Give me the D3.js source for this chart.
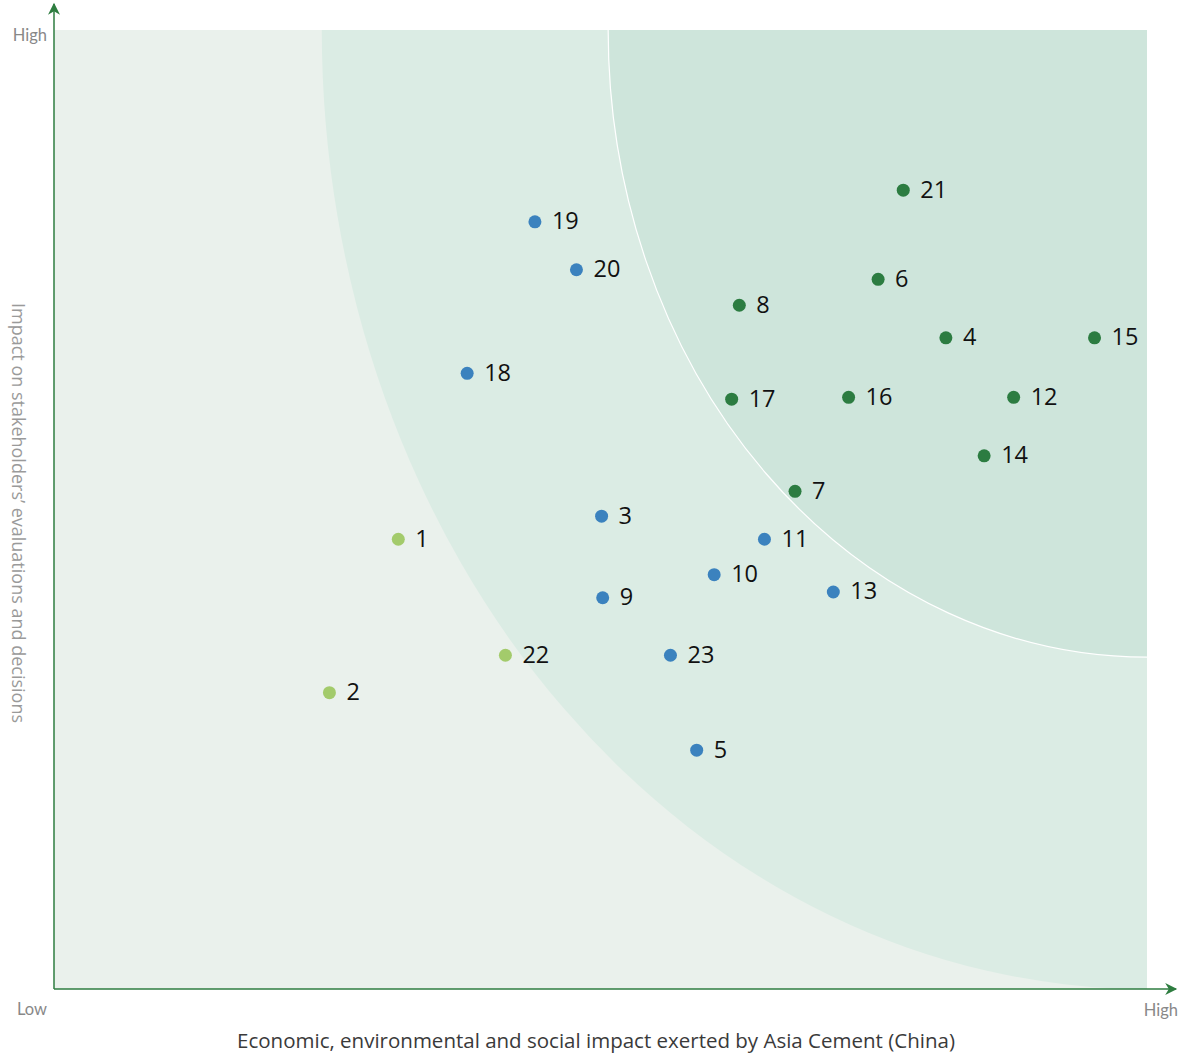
<!DOCTYPE html>
<html>
<head>
<meta charset="utf-8">
<script src="https://cdn.jsdelivr.net/npm/d3@7"></script>
<style>
  html, body { margin: 0; padding: 0; background: #fff; }
  svg { display: block; }
</style>
</head>
<body>
<div id="chart"></div>
<script>
// ---- data ----
const ids    = [1, 2, 3, 4, 5, 6, 7, 8, 9, 10, 11, 12, 13, 14, 15, 16, 17, 18, 19, 20, 21, 22, 23];
const xVals  = [3.15, 2.52, 5.01, 8.16, 5.88, 7.54, 6.78, 6.27, 5.02, 6.04, 6.50, 8.78, 7.13, 8.51, 9.52, 7.27, 6.20, 3.78, 4.40, 4.78, 7.77, 4.13, 5.64];
const yVals  = [4.69, 3.09, 4.93, 6.79, 2.49, 7.40, 5.19, 7.13, 4.08, 4.32, 4.69, 6.17, 4.14, 5.56, 6.79, 6.17, 6.15, 6.42, 8.00, 7.50, 8.33, 3.48, 3.48];
const groups = ["low", "low", "mid", "high", "mid", "high", "high", "high", "mid", "mid", "mid", "high", "mid", "high", "high", "high", "high", "mid", "mid", "mid", "high", "low", "mid"];
const groupNames  = ["low", "mid", "high"];
const groupColors = ["#a3cb6b", "#3b82be", "#2c7c41"];
// materiality zones: elliptical radii measured from the top-right corner (data units)
const zoneRx = [7.55, 4.93];
const zoneRy = [10, 6.54];
const zoneColors = ["#dbece4", "#cee5db"];
const axisLow = "Low", axisHigh = "High";
const xTitle = "Economic, environmental and social impact exerted by Asia Cement (China)";
const yTitle = "Impact on stakeholders’ evaluations and decisions";

// ---- layout ----
const W = 1178, H = 1055;
const mLeft = 54, mRight = 1147, mTop = 30, mBottom = 989;
const x = d3.scaleLinear().domain([0, 10]).range([mLeft, mRight]);
const y = d3.scaleLinear().domain([0, 10]).range([mBottom, mTop]);
const color = d3.scaleOrdinal().domain(groupNames).range(groupColors);

const svg = d3.select("#chart").append("svg").attr("width", W).attr("height", H);
const defs = svg.append("defs");

defs.append("clipPath").attr("id", "plotClip")
  .append("rect").attr("x", mLeft).attr("y", mTop).attr("width", mRight - mLeft).attr("height", mBottom - mTop);

svg.append("rect").attr("x", mLeft).attr("y", mTop).attr("width", mRight - mLeft).attr("height", mBottom - mTop)
  .attr("fill", "#eaf1ec");

const zones = svg.append("g").attr("clip-path", "url(#plotClip)");
zoneRx.forEach((rx, i) => {
  zones.append("ellipse")
    .attr("cx", x(10)).attr("cy", y(10))
    .attr("rx", x(rx) - x(0)).attr("ry", y(0) - y(zoneRy[i]))
    .attr("fill", zoneColors[i])
    .attr("stroke", i === 1 ? "#ffffff" : "none")
    .attr("stroke-width", 1.2);
});

// axes with arrows
const axisColor = "#2e7d40";
defs.append("marker").attr("id", "arrow").attr("viewBox", "0 0 10 10")
  .attr("refX", 9).attr("refY", 5).attr("markerWidth", 14).attr("markerHeight", 12)
  .attr("markerUnits", "userSpaceOnUse").attr("orient", "auto")
  .append("path").attr("d", "M0,0 L10,5 L0,10 L3,5 Z").attr("fill", axisColor);

svg.append("line").attr("x1", mLeft).attr("y1", mBottom).attr("x2", mLeft).attr("y2", 4)
  .attr("stroke", axisColor).attr("stroke-width", 1.5).attr("marker-end", "url(#arrow)");
svg.append("line").attr("x1", mLeft).attr("y1", mBottom).attr("x2", 1176).attr("y2", mBottom)
  .attr("stroke", axisColor).attr("stroke-width", 1.5).attr("marker-end", "url(#arrow)");

const tickStyle = s => s.attr("font-family", "Lato, 'Open Sans', sans-serif").attr("font-size", 16.5).attr("fill", "#888");
tickStyle(svg.append("text").attr("x", 47).attr("y", 41).attr("text-anchor", "end").text(axisHigh));
tickStyle(svg.append("text").attr("x", 47).attr("y", 1015).attr("text-anchor", "end").text(axisLow));
tickStyle(svg.append("text").attr("x", 1178).attr("y", 1016).attr("text-anchor", "end").text(axisHigh));

svg.append("text").attr("x", 596).attr("y", 1048).attr("text-anchor", "middle")
  .attr("font-family", "'Open Sans', sans-serif").attr("font-size", 20.5).attr("fill", "#3a3a3a")
  .text(xTitle);
svg.append("text").attr("transform", "translate(12,513) rotate(90)").attr("text-anchor", "middle")
  .attr("font-family", "'Open Sans', sans-serif").attr("font-size", 18).attr("fill", "#9a9a9a")
  .text(yTitle);

// points
const data = ids.map((id, i) => ({ id, x: xVals[i], y: yVals[i], g: groups[i] }));
const pts = svg.append("g").selectAll("g").data(data).join("g")
  .attr("transform", d => `translate(${x(d.x)},${y(d.y)})`);
pts.append("circle").attr("r", 6.5).attr("fill", d => color(d.g));
pts.append("text").attr("x", 17).attr("y", 7.5)
  .attr("font-family", "'Open Sans', sans-serif").attr("font-size", 23.5).attr("fill", "#111")
  .text(d => d.id);
</script>
</body>
</html>
